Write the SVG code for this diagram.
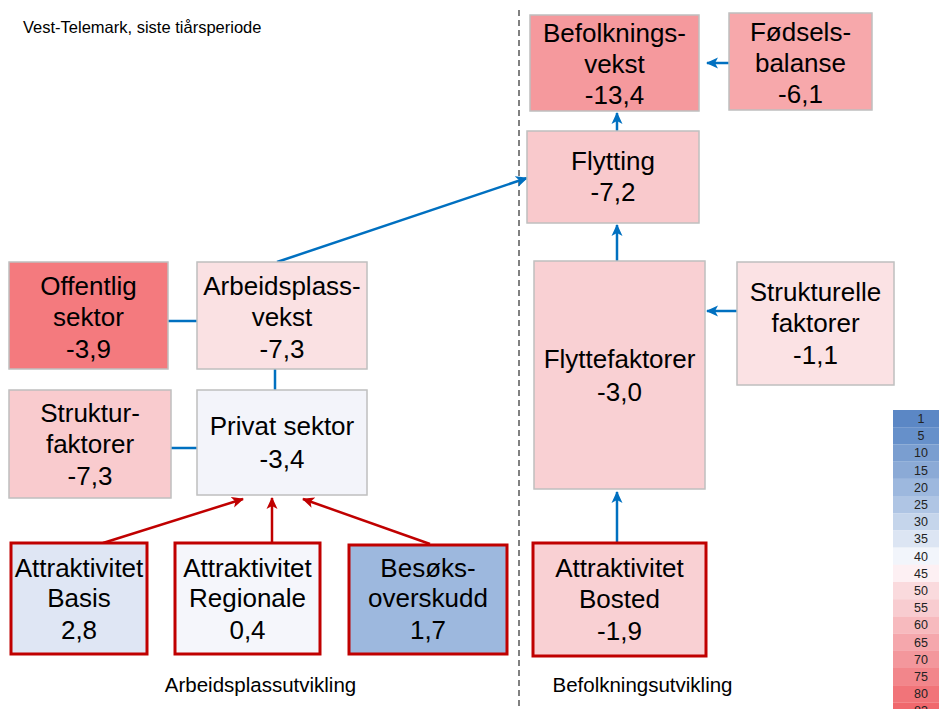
<svg xmlns="http://www.w3.org/2000/svg" width="939" height="709" viewBox="0 0 939 709">
<style>
.box{stroke:#BFBFBF;stroke-width:1.5}
.rbox{stroke:#C00000;stroke-width:3}
.t{font-family:"Liberation Sans",Arial,sans-serif;font-size:26px;fill:#000;text-anchor:middle}
.cap{font-family:"Liberation Sans",Arial,sans-serif;font-size:16.5px;fill:#000}
.cap2{font-family:"Liberation Sans",Arial,sans-serif;font-size:20.5px;fill:#000;text-anchor:middle}
.lg{font-family:"Liberation Sans",Arial,sans-serif;font-size:12.5px;fill:#222;text-anchor:middle}
.bl{stroke:#0070C0;stroke-width:2.5;fill:none}
.rd{stroke:#C00000;stroke-width:2.5;fill:none}
</style>
<defs>
<marker id="ab" markerUnits="userSpaceOnUse" markerWidth="12" markerHeight="12" viewBox="0 0 12 12" refX="11" refY="6" orient="auto">
<path d="M0,0.5 L12,6 L0,11.5 L3,6 z" fill="#0070C0"/>
</marker>
<marker id="ar" markerUnits="userSpaceOnUse" markerWidth="12" markerHeight="12" viewBox="0 0 12 12" refX="11" refY="6" orient="auto">
<path d="M0,0.5 L12,6 L0,11.5 L3,6 z" fill="#C00000"/>
</marker>
</defs>
<rect width="939" height="709" fill="#fff"/>
<text class="cap" x="23" y="33">Vest-Telemark, siste tiårsperiode</text>
<line x1="519" y1="10" x2="519" y2="709" stroke="#808080" stroke-width="2" stroke-dasharray="6,4"/>
<g id="connectors">
<line class="bl" x1="729" y1="63" x2="707" y2="63" marker-end="url(#ab)"/>
<line class="bl" x1="617" y1="131" x2="617" y2="113" marker-end="url(#ab)"/>
<line class="bl" x1="617" y1="261" x2="617" y2="225" marker-end="url(#ab)"/>
<line class="bl" x1="737" y1="311" x2="707" y2="311" marker-end="url(#ab)"/>
<line class="bl" x1="617" y1="543" x2="617" y2="492" marker-end="url(#ab)"/>
<line class="bl" x1="277" y1="262" x2="527" y2="178" marker-end="url(#ab)"/>
<line class="bl" x1="168" y1="321" x2="197" y2="321"/>
<line class="bl" x1="275" y1="369" x2="275" y2="390"/>
<line class="bl" x1="171" y1="448" x2="197" y2="448"/>
<line class="rd" x1="103" y1="543" x2="243" y2="499" marker-end="url(#ar)"/>
<line class="rd" x1="272" y1="543" x2="272" y2="498" marker-end="url(#ar)"/>
<line class="rd" x1="430" y1="544" x2="303" y2="499" marker-end="url(#ar)"/>
</g>
<g id="befolkningsvekst">
<rect class="box" x="530" y="15" width="169" height="96" fill="#F5999D"/>
<text class="t" x="614.5" y="42">Befolknings-</text>
<text class="t" x="614.5" y="73">vekst</text>
<text class="t" x="614.5" y="104">-13,4</text>
</g>
<g id="fodselsbalanse">
<rect class="box" x="729" y="13" width="143" height="97" fill="#F7A8AB"/>
<text class="t" x="800.5" y="41">Fødsels-</text>
<text class="t" x="800.5" y="72">balanse</text>
<text class="t" x="800.5" y="103">-6,1</text>
</g>
<g id="flytting">
<rect class="box" x="527" y="131" width="172" height="92" fill="#F9C9CC"/>
<text class="t" x="613" y="170">Flytting</text>
<text class="t" x="613" y="201">-7,2</text>
</g>
<g id="flyttefaktorer">
<rect class="box" x="534" y="261" width="171" height="228" fill="#F9D0D3"/>
<text class="t" x="619.5" y="368">Flyttefaktorer</text>
<text class="t" x="619.5" y="401">-3,0</text>
</g>
<g id="strukturelle">
<rect class="box" x="737" y="262" width="157" height="123" fill="#FBE2E4"/>
<text class="t" x="815.5" y="301">Strukturelle</text>
<text class="t" x="815.5" y="332">faktorer</text>
<text class="t" x="815.5" y="364">-1,1</text>
</g>
<g id="bosted">
<rect class="rbox" x="533" y="543" width="173" height="113" fill="#F9D0D3"/>
<text class="t" x="619.5" y="577">Attraktivitet</text>
<text class="t" x="619.5" y="608">Bosted</text>
<text class="t" x="619.5" y="640">-1,9</text>
</g>
<g id="offentlig">
<rect class="box" x="9" y="262" width="159" height="107" fill="#F47A7E"/>
<text class="t" x="88.5" y="295">Offentlig</text>
<text class="t" x="88.5" y="326">sektor</text>
<text class="t" x="88.5" y="358">-3,9</text>
</g>
<g id="arbeidsplassvekst">
<rect class="box" x="197" y="262" width="170" height="107" fill="#FAE1E3"/>
<text class="t" x="282" y="295">Arbeidsplass-</text>
<text class="t" x="282" y="326">vekst</text>
<text class="t" x="282" y="358">-7,3</text>
</g>
<g id="strukturfaktorer">
<rect class="box" x="9" y="390" width="162" height="108" fill="#F9CBCE"/>
<text class="t" x="90" y="422">Struktur-</text>
<text class="t" x="90" y="453">faktorer</text>
<text class="t" x="90" y="485">-7,3</text>
</g>
<g id="privat">
<rect class="box" x="197" y="390" width="170" height="105" fill="#F3F4FA"/>
<text class="t" x="282" y="435">Privat sektor</text>
<text class="t" x="282" y="468">-3,4</text>
</g>
<g id="basis">
<rect class="rbox" x="11" y="543" width="136" height="111" fill="#DFE6F4"/>
<text class="t" x="79" y="577">Attraktivitet</text>
<text class="t" x="79" y="607">Basis</text>
<text class="t" x="79" y="639">2,8</text>
</g>
<g id="regionale">
<rect class="rbox" x="175" y="543" width="145" height="111" fill="#F5F6FB"/>
<text class="t" x="247.5" y="577">Attraktivitet</text>
<text class="t" x="247.5" y="607">Regionale</text>
<text class="t" x="247.5" y="639">0,4</text>
</g>
<g id="besoks">
<rect class="rbox" x="349" y="545" width="158" height="109" fill="#9DB8DE"/>
<text class="t" x="428" y="577">Besøks-</text>
<text class="t" x="428" y="607">overskudd</text>
<text class="t" x="428" y="639">1,7</text>
</g>
<text class="cap2" x="260.5" y="692">Arbeidsplassutvikling</text>
<text class="cap2" x="642.5" y="692">Befolkningsutvikling</text>
<g id="legend">
<rect x="893" y="410" width="46" height="17.3" fill="#5B87C5"/>
<rect x="893" y="427.2" width="46" height="17.3" fill="#6690CA"/>
<rect x="893" y="444.4" width="46" height="17.3" fill="#7A9ED0"/>
<rect x="893" y="461.6" width="46" height="17.3" fill="#8BAAD6"/>
<rect x="893" y="478.8" width="46" height="17.3" fill="#9DB8DE"/>
<rect x="893" y="496" width="46" height="17.3" fill="#AFC5E4"/>
<rect x="893" y="513.2" width="46" height="17.3" fill="#C5D5EB"/>
<rect x="893" y="530.4" width="46" height="17.3" fill="#DCE5F3"/>
<rect x="893" y="547.6" width="46" height="17.3" fill="#F2F5FB"/>
<rect x="893" y="564.8" width="46" height="17.3" fill="#FDF0F3"/>
<rect x="893" y="582" width="46" height="17.3" fill="#FADADD"/>
<rect x="893" y="599.2" width="46" height="17.3" fill="#F8CCD0"/>
<rect x="893" y="616.4" width="46" height="17.3" fill="#F7BABE"/>
<rect x="893" y="633.6" width="46" height="17.3" fill="#F5A7AC"/>
<rect x="893" y="650.8" width="46" height="17.3" fill="#F3979C"/>
<rect x="893" y="668" width="46" height="17.3" fill="#F2868B"/>
<rect x="893" y="685.2" width="46" height="17.3" fill="#F17479"/>
<rect x="893" y="702.4" width="46" height="17.3" fill="#F0686D"/>
<text class="lg" x="921" y="423">1</text>
<text class="lg" x="921" y="440.2">5</text>
<text class="lg" x="921" y="457.4">10</text>
<text class="lg" x="921" y="474.6">15</text>
<text class="lg" x="921" y="491.8">20</text>
<text class="lg" x="921" y="509">25</text>
<text class="lg" x="921" y="526.2">30</text>
<text class="lg" x="921" y="543.4">35</text>
<text class="lg" x="921" y="560.6">40</text>
<text class="lg" x="921" y="577.8">45</text>
<text class="lg" x="921" y="595">50</text>
<text class="lg" x="921" y="612.2">55</text>
<text class="lg" x="921" y="629.4">60</text>
<text class="lg" x="921" y="646.6">65</text>
<text class="lg" x="921" y="663.8">70</text>
<text class="lg" x="921" y="681">75</text>
<text class="lg" x="921" y="698.2">80</text>
<text class="lg" x="921" y="715">83</text>
</g>
</svg>
